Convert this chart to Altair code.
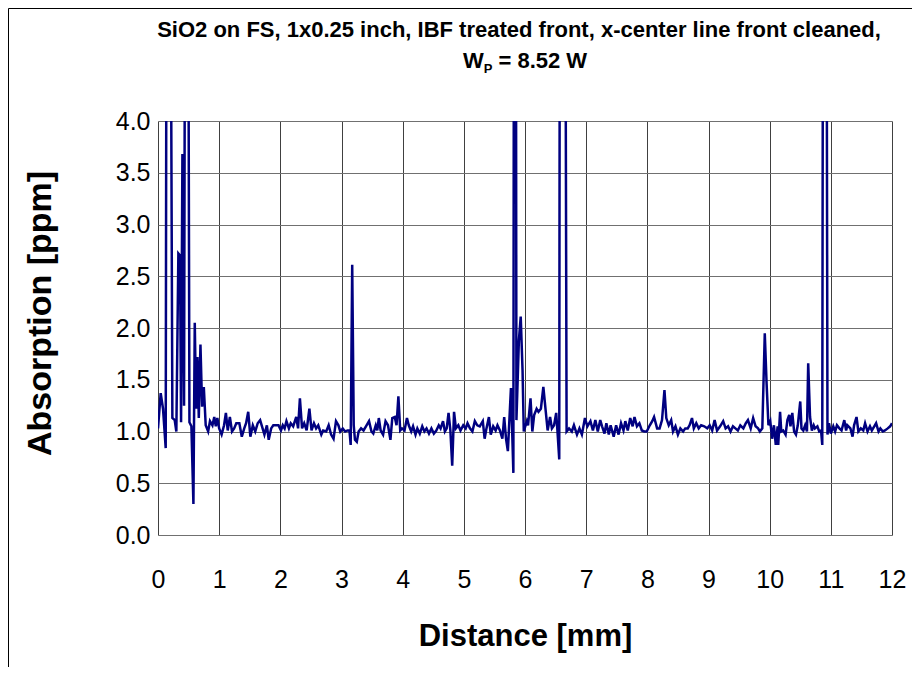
import altair as alt
import pandas as pd

# Distance [mm] and absorption [ppm]
x_mm = [
    0.0, 0.044, 0.082, 0.126, 0.148, 0.186, 0.235, 0.273, 0.30, 0.333,
    0.36, 0.377, 0.399, 0.426, 0.454, 0.48, 0.514, 0.546, 0.579, 0.601,
    0.623, 0.645, 0.667, 0.694, 0.721, 0.749,
    0.78, 0.82, 0.85, 0.89, 0.92, 0.945, 0.97, 1.0, 1.04, 1.08,
    1.11, 1.14, 1.175, 1.21, 1.245, 1.28, 1.33, 1.37, 1.41, 1.44,
    1.475, 1.51, 1.55, 1.59, 1.63, 1.67, 1.70, 1.74, 1.78, 1.81,
    1.85, 1.885, 1.93, 1.97, 2.01, 2.04, 2.07, 2.10, 2.14, 2.17,
    2.21, 2.26, 2.29, 2.32, 2.355, 2.39, 2.43, 2.475, 2.51, 2.55,
    2.585, 2.62, 2.67, 2.70, 2.75, 2.79, 2.83, 2.87, 2.91, 2.95,
    2.98, 3.02, 3.06, 3.10,
    3.13, 3.15, 3.175, 3.20, 3.22, 3.25, 3.28, 3.32, 3.36, 3.40,
    3.45, 3.49, 3.52, 3.56, 3.585, 3.61, 3.64, 3.68, 3.72, 3.76,
    3.80, 3.83, 3.87, 3.90, 3.93, 3.96, 3.99, 4.03, 4.07, 4.10,
    4.14, 4.17, 4.21, 4.24, 4.28, 4.32, 4.355, 4.39, 4.43, 4.47,
    4.51, 4.55, 4.59, 4.62, 4.66, 4.69, 4.72, 4.75, 4.78, 4.81,
    4.84, 4.87, 4.91, 4.945, 4.99, 5.03, 5.06, 5.10, 5.14, 5.18,
    5.22, 5.26, 5.31, 5.34, 5.37, 5.41, 5.44, 5.48, 5.52, 5.55,
    5.59, 5.63, 5.66, 5.69, 5.72, 5.77, 5.81, 5.825, 5.845, 5.86,
    5.90, 5.93, 5.96, 5.98, 6.03, 6.05, 6.09, 6.12, 6.15, 6.19,
    6.22, 6.26, 6.30, 6.34, 6.37, 6.41, 6.44, 6.475, 6.51, 6.53,
    6.56, 6.575, 6.60, 6.625, 6.645, 6.68, 6.72, 6.765, 6.80, 6.85,
    6.89, 6.93, 6.98, 7.02, 7.07, 7.11, 7.15, 7.19, 7.23, 7.26,
    7.30, 7.33, 7.37, 7.40, 7.45, 7.49, 7.53, 7.57, 7.61, 7.64,
    7.68, 7.72, 7.76, 7.79, 7.83, 7.87, 7.91, 7.95, 7.99, 8.04,
    8.08, 8.11, 8.16, 8.20, 8.24, 8.28, 8.31, 8.35, 8.39, 8.42,
    8.46, 8.50, 8.54, 8.585, 8.62, 8.66, 8.69, 8.73, 8.76, 8.80,
    8.84, 8.88,
    8.93, 8.98, 9.02, 9.06, 9.10, 9.14, 9.19, 9.24, 9.28, 9.32,
    9.36, 9.40, 9.44, 9.48, 9.52, 9.57, 9.61, 9.645, 9.69, 9.73,
    9.77, 9.81, 9.84, 9.88, 9.92, 9.95, 9.98, 10.01, 10.04, 10.07,
    10.10, 10.13, 10.14, 10.17, 10.19, 10.22, 10.26, 10.29, 10.32, 10.34,
    10.37, 10.40, 10.43, 10.46, 10.50, 10.52, 10.55, 10.58, 10.61, 10.63,
    10.66, 10.69, 10.72, 10.74, 10.78, 10.81, 10.84, 10.86, 10.88, 10.92,
    10.945, 10.97, 11.0, 11.04, 11.07, 11.10, 11.14, 11.175, 11.22, 11.25,
    11.27, 11.32, 11.355, 11.38, 11.42, 11.45, 11.49, 11.53, 11.56, 11.60,
    11.64, 11.67, 11.71, 11.74, 11.78, 11.81, 11.85, 11.885, 11.93, 11.97,
    12.0,
]

absorption = [
    1.03, 1.37, 1.22, 0.84, 9.0, 9.0, 1.13, 1.11, 1.00, 2.72,
    2.70, 1.09, 3.68, 1.25, 9.0, 9.0, 1.09, 1.05, 0.30, 2.05,
    1.22, 1.72, 1.13, 1.84, 1.24, 1.43,
    1.06, 1.00, 1.10, 1.06, 1.14, 1.05, 1.13, 1.03, 0.97, 1.06,
    1.18, 1.01, 1.14, 1.00, 1.03, 1.08, 1.08, 0.95, 1.03, 1.08,
    1.19, 0.95, 1.06, 1.00, 1.08, 1.11, 1.05, 0.97, 1.06, 0.92,
    1.03, 1.06, 1.06, 1.06, 1.01, 1.06, 1.03, 1.10, 1.03, 1.08,
    1.05, 1.14, 1.03, 1.32, 1.03, 1.08, 1.01, 1.22, 1.01, 1.08,
    1.03, 1.06, 0.97, 1.01, 1.00, 1.06, 0.97, 0.93, 1.10, 1.06,
    1.00, 1.03, 1.00, 1.01,
    1.01, 0.87, 2.61, 1.06, 0.92, 0.90, 1.00, 1.03, 1.01, 1.05,
    1.10, 1.00, 0.98, 1.06, 1.01, 1.13, 1.01, 0.97, 1.10, 1.06,
    0.92, 1.13, 1.14, 1.06, 1.34, 1.01, 1.03, 1.01, 1.13, 1.06,
    1.00, 1.05, 0.97, 1.03, 0.98, 1.05, 1.00, 1.03, 0.98, 1.03,
    0.98, 1.01, 1.06, 1.03, 1.10, 1.00, 1.03, 1.18, 1.01, 0.67,
    1.19, 1.03, 1.06, 1.01, 1.06, 1.03, 1.08, 1.03, 1.00, 1.10,
    1.06, 1.05, 1.10, 0.93, 1.03, 1.14, 0.97, 1.05, 1.01, 1.06,
    1.01, 0.93, 1.14, 0.93, 0.81, 1.42, 0.60, 9.0, 9.0, 1.11,
    1.88, 2.11, 1.59, 1.00, 1.10, 1.06, 1.32, 1.00, 1.16, 1.22,
    1.19, 1.22, 1.43, 1.19, 1.01, 1.14, 1.03, 1.06, 1.18, 1.01,
    0.73, 9.0, 10.0, 10.0, 9.0, 1.00, 1.03, 1.00, 1.06, 0.97,
    1.03, 0.97, 1.13, 1.05, 1.10, 1.01, 1.11, 1.00, 1.11, 1.05,
    0.98, 1.08, 0.97, 1.06, 0.95, 1.06, 0.97, 1.08, 1.01, 1.10,
    1.01, 1.13, 1.05, 1.14, 1.05, 1.08, 1.01, 1.00, 1.00, 1.06,
    1.10, 1.14, 1.03, 1.03, 1.11, 1.40, 1.13, 1.06, 1.11, 1.00,
    1.05, 0.97, 1.03, 1.00, 1.03, 1.03, 1.06, 1.13, 1.03, 1.08,
    1.03, 1.06,
    1.05, 1.03, 1.06, 1.01, 1.11, 1.01, 1.05, 1.10, 1.03, 1.05,
    1.00, 1.05, 1.03, 1.01, 1.06, 1.03, 1.08, 1.11, 1.03, 1.13,
    1.05, 1.03, 1.00, 1.03, 1.95, 1.46, 1.06, 1.10, 0.93, 1.06,
    0.87, 1.05, 0.87, 1.19, 1.00, 1.01, 0.97, 1.11, 1.16, 1.05,
    1.18, 1.00, 0.97, 1.06, 1.29, 1.03, 1.01, 1.06, 1.00, 1.66,
    1.14, 1.01, 1.06, 1.03, 1.05, 1.00, 1.01, 0.87, 9.0, 9.0,
    0.97, 1.08, 0.98, 1.05, 1.00, 1.06, 1.03, 1.01, 1.11, 1.01,
    1.06, 1.03, 0.95, 1.06, 1.14, 1.00, 1.03, 1.01, 1.08, 1.00,
    1.05, 1.01, 1.05, 1.08, 1.00, 1.03, 1.00, 1.01, 1.03, 1.05,
    1.08,
]

title_line1 = "SiO2 on FS, 1x0.25 inch, IBF treated front, x-center line front cleaned,"
title_parts = ["W", "P", "= 8.52 W"]

x_ticks = list(range(0, 13))
y_ticks = [0.0, 0.5, 1.0, 1.5, 2.0, 2.5, 3.0, 3.5, 4.0]

df = pd.DataFrame({"x": x_mm, "y": absorption})
one = pd.DataFrame({"t": [title_line1], "a": [title_parts[0]], "b": [title_parts[1]], "c": [title_parts[2]]})

FONT = "Arial, Liberation Sans, Helvetica, sans-serif"
W, H = 734, 414
TS = 22  # title font size
SS = 13  # subscript font size
# widths of the second title line (bold Arial metrics)
wW = 0.944 * TS
wP = 0.667 * SS + 0.278 * TS
wRest = 4.03 * TS
x0 = W / 2 - (wW + wP + wRest) / 2

line = alt.Chart(df).mark_line(color="#000080", strokeWidth=2.5, clip=True).encode(
    x=alt.X("x:Q", scale=alt.Scale(domain=[0, 12], nice=False, zero=False),
            axis=alt.Axis(values=x_ticks, format="d", title="Distance [mm]",
                          labelFontSize=25, labelPadding=32, labelFlush=False,
                          ticks=False, domain=False,
                          gridColor="#404040", gridOpacity=1, gridWidth=1,
                          titleFontSize=31, titleFontWeight="bold", titlePadding=29,
                          labelColor="black", titleColor="black")),
    y=alt.Y("y:Q", scale=alt.Scale(domain=[0, 4], nice=False, zero=False),
            axis=alt.Axis(values=y_ticks, format=".1f", title="Absorption [ppm]",
                          labelFontSize=25, labelPadding=8, labelFlush=False,
                          ticks=False, domain=False,
                          gridColor="#707070", gridOpacity=1, gridWidth=1,
                          titleFontSize=34, titleFontWeight="bold", titlePadding=58,
                          titleY=192,
                          labelColor="black", titleColor="black")),
)

t1 = alt.Chart(one).mark_text(font=FONT, fontSize=TS, fontWeight="bold", align="center",
                              baseline="middle", color="black").encode(
    x=alt.value(W / 2 - 6), y=alt.value(-91), text="t:N")
ta = alt.Chart(one).mark_text(font=FONT, fontSize=TS, fontWeight="bold", align="left",
                              baseline="alphabetic", color="black").encode(
    x=alt.value(x0), y=alt.value(-53), text="a:N")
tb = alt.Chart(one).mark_text(font=FONT, fontSize=SS, fontWeight="bold", align="left",
                              baseline="alphabetic", color="black").encode(
    x=alt.value(x0 + wW), y=alt.value(-48), text="b:N")
tc = alt.Chart(one).mark_text(font=FONT, fontSize=TS, fontWeight="bold", align="left",
                              baseline="alphabetic", color="black").encode(
    x=alt.value(x0 + wW + wP), y=alt.value(-53), text="c:N")

frame = alt.Chart(one).mark_rect(fill=None, stroke="black", strokeWidth=1, clip=False).encode(
    x=alt.value(-149.5), x2=alt.value(755.5), y=alt.value(-112.5), y2=alt.value(600))

chart = alt.layer(frame, line, t1, ta, tb, tc).properties(
    width=W, height=H,
    autosize=alt.AutoSizeParams(type="none"),
    padding={"left": 150, "top": 113, "right": 20, "bottom": 132},
    background="white",
).configure_view(stroke="black", strokeWidth=2.5).configure(
    font=FONT
).configure_axis(labelFont=FONT, titleFont=FONT)

chart.save("out.html", embed_options={"renderer": "svg", "actions": False})
